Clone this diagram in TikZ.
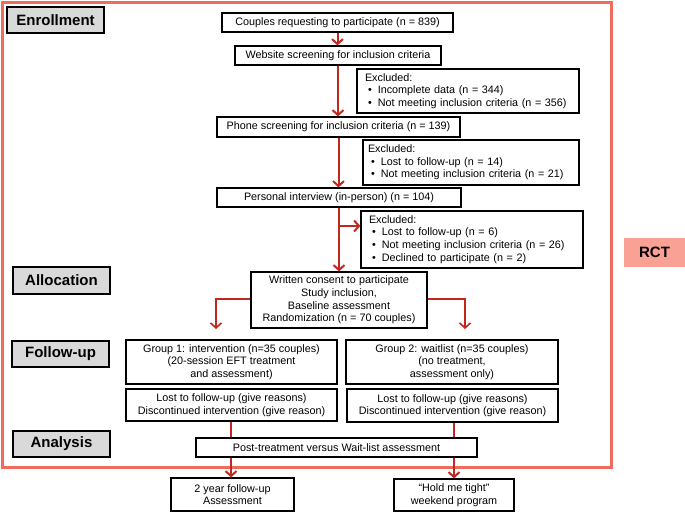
\documentclass[tikz,border=0pt]{standalone}
\usepackage{fontspec}
\setmainfont{Liberation Sans}
\usetikzlibrary{arrows.meta}
\definecolor{framered}{RGB}{240,108,92}
\definecolor{arrred}{RGB}{192,40,30}
\definecolor{rctfill}{RGB}{249,161,148}
\definecolor{labgray}{RGB}{217,217,217}
\newcommand{\bul}{\hspace*{3pt}\textbullet\hspace{6pt}}
\begin{document}
\begin{tikzpicture}[x=1pt,y=-1pt,
  box/.style={draw=black, line width=1.2pt, fill=white, font=\fontsize{10.8}{12.6}\selectfont, align=center, inner sep=2pt},
  lbox/.style={box, align=left},
  lab/.style={draw=black, line width=1.2pt, fill=labgray, font=\fontsize{15}{18}\selectfont\bfseries, minimum width=97pt, minimum height=26pt, inner sep=0pt},
  arr/.style={draw=arrred, line width=2pt, -{Straight Barb[length=5pt,width=11pt]}},
  ln/.style={draw=arrred, line width=2pt},
]
\useasboundingbox (0,0) rectangle (685,512);
\draw[framered, line width=3pt] (2,2) rectangle (611,467);

% stage labels
\node[lab] (enr) at (55.5,20) {Enrollment};
\node[lab, minimum height=27pt] (alloc) at (61.5,280.5) {Allocation};
\node[lab] (follow) at (60.5,354) {Follow-up};
\node[lab] (anal) at (61.5,444) {Analysis};
\node[fill=rctfill, minimum width=61pt, minimum height=29pt, inner sep=0pt, font=\fontsize{15}{18}\selectfont\bfseries] (rct) at (654.5,252.5) {RCT};

% flow boxes
\node[box, minimum width=231pt, minimum height=19pt] (couples) at (337.5,22.5) {Couples requesting to participate (n = 839)};
\node[box, minimum width=206pt, minimum height=19pt] (website) at (338,55.5) {Website screening for inclusion criteria};
\node[box, minimum width=243pt, minimum height=20pt] (phone) at (338.5,127) {Phone screening for inclusion criteria (n = 139)};
\node[box, minimum width=244pt, minimum height=19pt] (personal) at (339,197.5) {Personal interview (in-person) (n = 104)};

\node[lbox, minimum height=44pt, inner xsep=8pt, text width=206pt] (excl1) at (468,91)
  {Excluded:\\\bul Incomplete data (n = 344)\\\bul Not meeting inclusion criteria (n = 356)};
\node[lbox, minimum height=45pt, inner xsep=5pt, text width=206pt] (excl2) at (471,162.5)
  {Excluded:\\\bul Lost to follow-up (n = 14)\\\bul Not meeting inclusion criteria (n = 21)};
\node[lbox, minimum height=57pt, inner xsep=8pt, text width=206pt] (excl3) at (472,239.5)
  {Excluded:\\\bul Lost to follow-up (n = 6)\\\bul Not meeting inclusion criteria (n = 26)\\\bul Declined to participate (n = 2)};

\node[box, minimum width=176pt, minimum height=56pt] (consent) at (339,300)
  {Written consent to participate\\Study inclusion,\\Baseline assessment\\Randomization (n = 70 couples)};

\node[box, minimum width=211pt, minimum height=44pt] (g1) at (231.5,362)
  {Group 1: intervention (n=35 couples)\\(20-session EFT treatment\\and assessment)};
\node[box, minimum width=212pt, minimum height=44pt] (g2) at (452,362)
  {Group 2: waitlist (n=35 couples)\\(no treatment,\\assessment only)};
\node[box, minimum width=211pt, minimum height=32pt] (lost1) at (231.5,405)
  {Lost to follow-up (give reasons)\\Discontinued intervention (give reason)};
\node[box, minimum width=211pt, minimum height=33pt] (lost2) at (452.5,405.5)
  {Lost to follow-up (give reasons)\\Discontinued intervention (give reason)};
\node[box, minimum width=281pt, minimum height=19pt] (post) at (336.5,447.5)
  {Post-treatment versus Wait-list assessment};
\node[box, minimum width=123pt, minimum height=33pt] (twoyear) at (232.5,494.5)
  {2 year follow-up\\Assessment};
\node[box, minimum width=120pt, minimum height=32pt] (hold) at (454,495)
  {“Hold me tight”\\weekend program};

% connectors
\coordinate (sidey) at (0,226);
\coordinate (bry) at (0,299);
\coordinate (brl) at (216,329);
\coordinate (brr) at (465,329);
\coordinate (cl) at (231,0);
\coordinate (cr) at (454,0);

\draw[arr] (couples.south) -- (couples.south |- website.north);
\draw[arr] (website.south) -- (website.south |- phone.north);
\draw[arr] (phone.south) -- (phone.south |- personal.north);
\draw[arr] (personal.south) -- (personal.south |- consent.north);
\draw[arr] (personal.south |- sidey) -- (excl3.west |- sidey);
\draw[arr, line width=1.6pt] (consent.west |- bry) -| (brl);
\draw[arr, line width=1.6pt] (consent.east |- bry) -| (brr);
\draw[ln] (lost1.south -| cl) -- (post.north -| cl);
\draw[ln] (lost2.south -| cr) -- (post.north -| cr);
\draw[arr] (post.south -| cl) -- (twoyear.north -| cl);
\draw[arr] (post.south -| cr) -- (hold.north -| cr);
\end{tikzpicture}
\end{document}
